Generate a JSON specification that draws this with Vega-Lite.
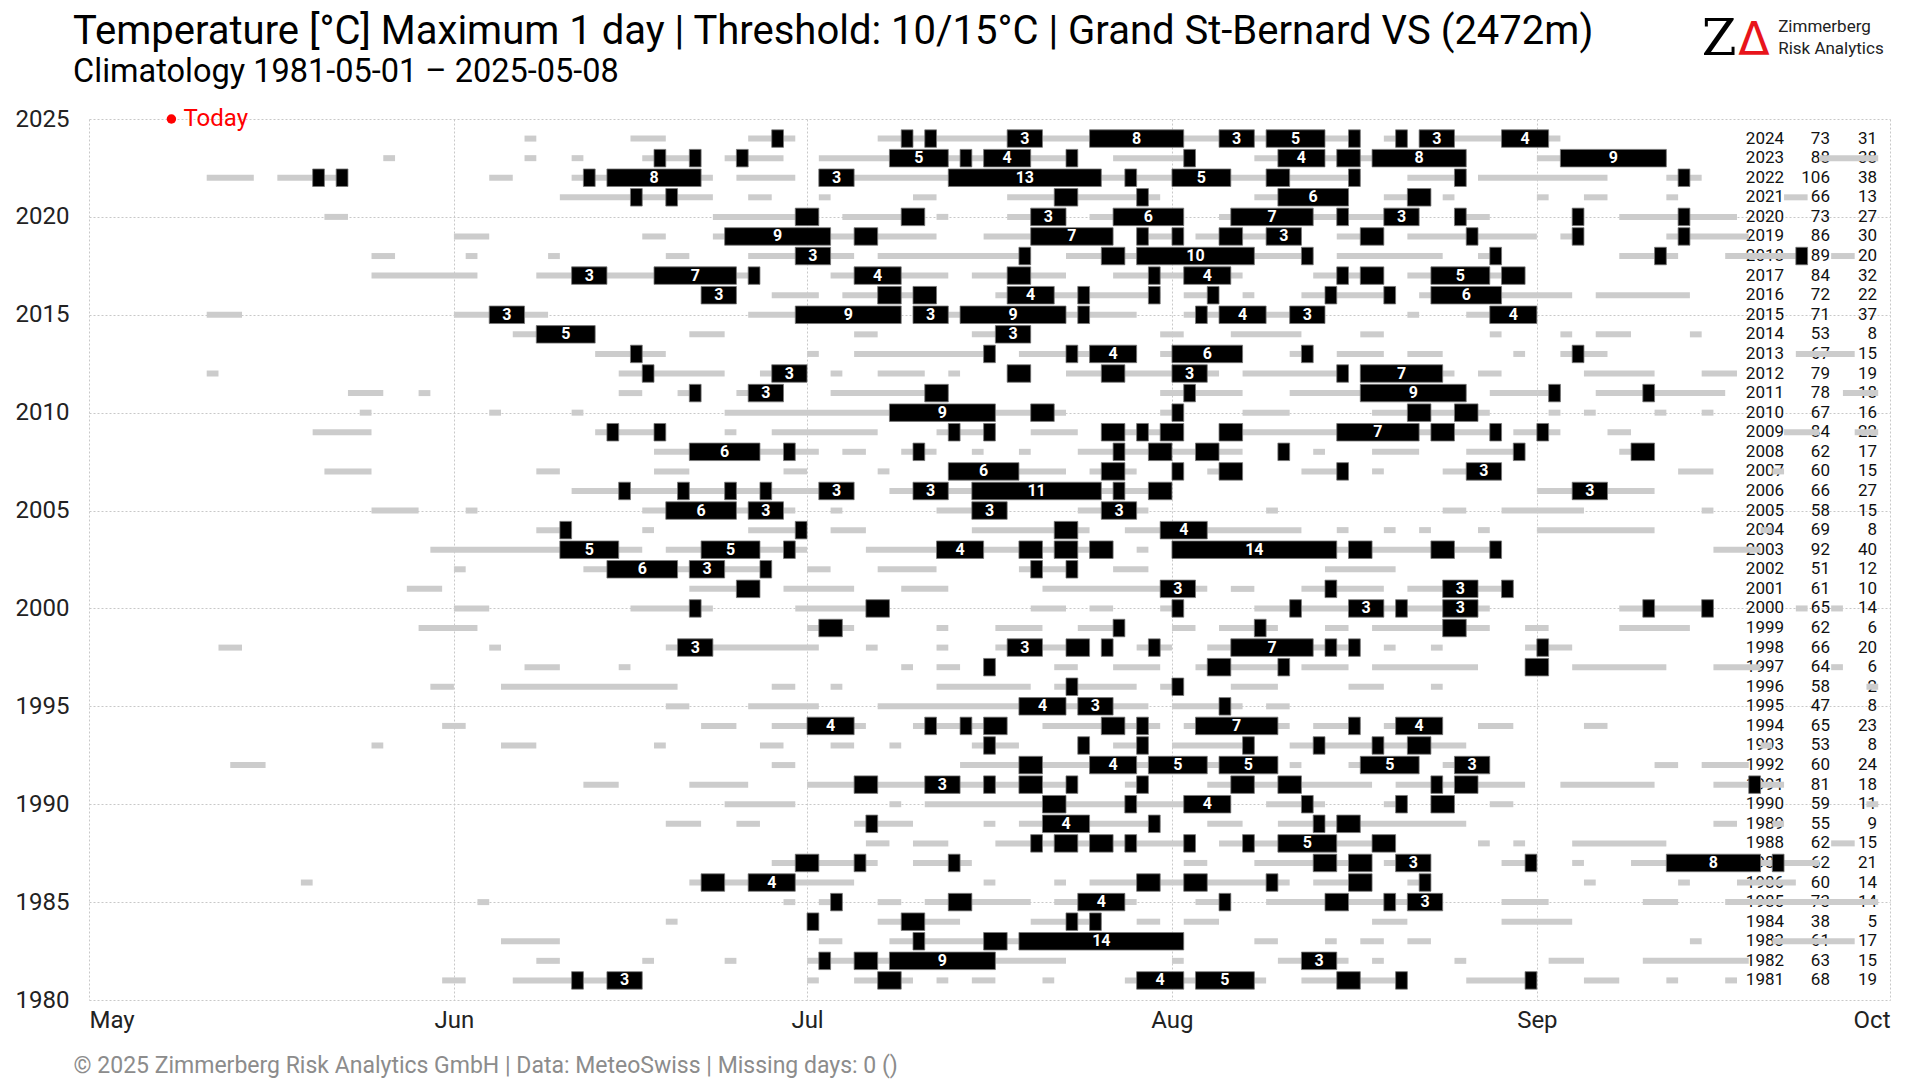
{
"$schema":"https://vega.github.io/schema/vega-lite/v6.json",
"width":1801,"height":881,
"autosize":{"type":"none"},
"padding":{"left":89,"top":119,"right":30,"bottom":80},
"background":"white",
"config":{"view":{"stroke":null},"font":"Roboto"},
"datasets":{
"g":[
{"y":2024,"s":37,"e":38},{"y":2024,"s":46,"e":49},{"y":2024,"s":56,"e":60},{"y":2024,"s":67,"e":108},{"y":2024,"s":110,"e":112},{"y":2024,"s":113,"e":125},
{"y":2023,"s":25,"e":26},{"y":2023,"s":37,"e":38},{"y":2023,"s":41,"e":42},{"y":2023,"s":47,"e":52},{"y":2023,"s":54,"e":59},{"y":2023,"s":62,"e":84},{"y":2023,"s":87,"e":94},{"y":2023,"s":99,"e":117},{"y":2023,"s":123,"e":134},{"y":2023,"s":147,"e":152},
{"y":2022,"s":10,"e":14},{"y":2022,"s":16,"e":22},{"y":2022,"s":34,"e":36},{"y":2022,"s":41,"e":53},{"y":2022,"s":55,"e":60},{"y":2022,"s":62,"e":108},{"y":2022,"s":112,"e":117},{"y":2022,"s":118,"e":129},{"y":2022,"s":134,"e":137},
{"y":2021,"s":40,"e":53},{"y":2021,"s":56,"e":58},{"y":2021,"s":62,"e":63},{"y":2021,"s":70,"e":72},{"y":2021,"s":78,"e":91},{"y":2021,"s":99,"e":107},{"y":2021,"s":110,"e":114},{"y":2021,"s":115,"e":116},{"y":2021,"s":123,"e":124},{"y":2021,"s":127,"e":129},{"y":2021,"s":134,"e":135},{"y":2021,"s":144,"e":146},
{"y":2020,"s":20,"e":22},{"y":2020,"s":53,"e":62},{"y":2020,"s":64,"e":71},{"y":2020,"s":72,"e":73},{"y":2020,"s":78,"e":83},{"y":2020,"s":85,"e":93},{"y":2020,"s":96,"e":113},{"y":2020,"s":116,"e":119},{"y":2020,"s":126,"e":127},{"y":2020,"s":130,"e":140},
{"y":2019,"s":31,"e":34},{"y":2019,"s":47,"e":49},{"y":2019,"s":53,"e":72},{"y":2019,"s":76,"e":87},{"y":2019,"s":89,"e":93},{"y":2019,"s":94,"e":103},{"y":2019,"s":106,"e":110},{"y":2019,"s":112,"e":123},{"y":2019,"s":125,"e":127},{"y":2019,"s":134,"e":141},
{"y":2018,"s":24,"e":26},{"y":2018,"s":32,"e":33},{"y":2018,"s":39,"e":40},{"y":2018,"s":49,"e":51},{"y":2018,"s":56,"e":65},{"y":2018,"s":67,"e":80},{"y":2018,"s":83,"e":104},{"y":2018,"s":106,"e":115},{"y":2018,"s":118,"e":120},{"y":2018,"s":130,"e":135},{"y":2018,"s":139,"e":146},{"y":2018,"s":148,"e":150},
{"y":2017,"s":24,"e":33},{"y":2017,"s":38,"e":57},{"y":2017,"s":63,"e":73},{"y":2017,"s":75,"e":83},{"y":2017,"s":87,"e":98},{"y":2017,"s":104,"e":110},{"y":2017,"s":112,"e":122},
{"y":2016,"s":52,"e":55},{"y":2016,"s":58,"e":62},{"y":2016,"s":64,"e":72},{"y":2016,"s":77,"e":91},{"y":2016,"s":93,"e":96},{"y":2016,"s":98,"e":99},{"y":2016,"s":103,"e":111},{"y":2016,"s":113,"e":126},{"y":2016,"s":128,"e":136},
{"y":2015,"s":10,"e":13},{"y":2015,"s":31,"e":39},{"y":2015,"s":56,"e":69},{"y":2015,"s":70,"e":89},{"y":2015,"s":93,"e":105},{"y":2015,"s":112,"e":113},{"y":2015,"s":117,"e":123},
{"y":2014,"s":36,"e":43},{"y":2014,"s":51,"e":54},{"y":2014,"s":65,"e":67},{"y":2014,"s":75,"e":80},{"y":2014,"s":91,"e":93},{"y":2014,"s":97,"e":103},{"y":2014,"s":108,"e":110},{"y":2014,"s":119,"e":120},{"y":2014,"s":125,"e":126},{"y":2014,"s":128,"e":131},{"y":2014,"s":136,"e":137},
{"y":2013,"s":43,"e":49},{"y":2013,"s":61,"e":62},{"y":2013,"s":65,"e":77},{"y":2013,"s":79,"e":89},{"y":2013,"s":91,"e":98},{"y":2013,"s":102,"e":104},{"y":2013,"s":106,"e":110},{"y":2013,"s":112,"e":115},{"y":2013,"s":121,"e":122},{"y":2013,"s":125,"e":129},{"y":2013,"s":145,"e":150},
{"y":2012,"s":10,"e":11},{"y":2012,"s":45,"e":54},{"y":2012,"s":57,"e":61},{"y":2012,"s":63,"e":64},{"y":2012,"s":67,"e":71},{"y":2012,"s":73,"e":74},{"y":2012,"s":78,"e":80},{"y":2012,"s":83,"e":96},{"y":2012,"s":98,"e":107},{"y":2012,"s":108,"e":116},{"y":2012,"s":118,"e":120},{"y":2012,"s":127,"e":133},{"y":2012,"s":137,"e":140},
{"y":2011,"s":22,"e":25},{"y":2011,"s":28,"e":29},{"y":2011,"s":45,"e":47},{"y":2011,"s":50,"e":52},{"y":2011,"s":55,"e":59},{"y":2011,"s":63,"e":73},{"y":2011,"s":91,"e":98},{"y":2011,"s":102,"e":117},{"y":2011,"s":119,"e":125},{"y":2011,"s":128,"e":139},{"y":2011,"s":149,"e":152},
{"y":2010,"s":23,"e":24},{"y":2010,"s":34,"e":35},{"y":2010,"s":41,"e":42},{"y":2010,"s":54,"e":83},{"y":2010,"s":91,"e":93},{"y":2010,"s":98,"e":102},{"y":2010,"s":109,"e":119},{"y":2010,"s":124,"e":125},{"y":2010,"s":127,"e":128},{"y":2010,"s":133,"e":134},{"y":2010,"s":137,"e":138},
{"y":2009,"s":19,"e":24},{"y":2009,"s":43,"e":49},{"y":2009,"s":54,"e":55},{"y":2009,"s":58,"e":67},{"y":2009,"s":72,"e":77},{"y":2009,"s":80,"e":84},{"y":2009,"s":86,"e":93},{"y":2009,"s":96,"e":120},{"y":2009,"s":121,"e":125},{"y":2009,"s":129,"e":131},{"y":2009,"s":144,"e":147},{"y":2009,"s":150,"e":152},
{"y":2008,"s":48,"e":62},{"y":2008,"s":64,"e":66},{"y":2008,"s":69,"e":72},{"y":2008,"s":75,"e":76},{"y":2008,"s":79,"e":80},{"y":2008,"s":84,"e":98},{"y":2008,"s":101,"e":102},{"y":2008,"s":104,"e":105},{"y":2008,"s":109,"e":113},{"y":2008,"s":117,"e":122},{"y":2008,"s":130,"e":133},
{"y":2007,"s":20,"e":24},{"y":2007,"s":38,"e":40},{"y":2007,"s":48,"e":51},{"y":2007,"s":59,"e":61},{"y":2007,"s":67,"e":68},{"y":2007,"s":73,"e":83},{"y":2007,"s":85,"e":89},{"y":2007,"s":92,"e":93},{"y":2007,"s":95,"e":98},{"y":2007,"s":103,"e":107},{"y":2007,"s":109,"e":110},{"y":2007,"s":115,"e":120},{"y":2007,"s":135,"e":138},{"y":2007,"s":143,"e":144},
{"y":2006,"s":41,"e":65},{"y":2006,"s":68,"e":92},{"y":2006,"s":123,"e":133},
{"y":2005,"s":24,"e":28},{"y":2005,"s":32,"e":33},{"y":2005,"s":47,"e":60},{"y":2005,"s":63,"e":64},{"y":2005,"s":72,"e":78},{"y":2005,"s":84,"e":90},{"y":2005,"s":100,"e":101},{"y":2005,"s":115,"e":117},{"y":2005,"s":120,"e":127},{"y":2005,"s":137,"e":138},
{"y":2004,"s":38,"e":41},{"y":2004,"s":47,"e":48},{"y":2004,"s":56,"e":61},{"y":2004,"s":63,"e":66},{"y":2004,"s":75,"e":85},{"y":2004,"s":88,"e":103},{"y":2004,"s":106,"e":107},{"y":2004,"s":110,"e":111},{"y":2004,"s":113,"e":114},{"y":2004,"s":118,"e":119},{"y":2004,"s":123,"e":133},{"y":2004,"s":142,"e":143},
{"y":2003,"s":29,"e":47},{"y":2003,"s":49,"e":61},{"y":2003,"s":66,"e":87},{"y":2003,"s":89,"e":90},{"y":2003,"s":92,"e":120},{"y":2003,"s":138,"e":142},
{"y":2002,"s":31,"e":32},{"y":2002,"s":42,"e":58},{"y":2002,"s":61,"e":63},{"y":2002,"s":67,"e":72},{"y":2002,"s":79,"e":84},{"y":2002,"s":87,"e":90},{"y":2002,"s":105,"e":111},
{"y":2001,"s":27,"e":30},{"y":2001,"s":51,"e":57},{"y":2001,"s":59,"e":65},{"y":2001,"s":69,"e":73},{"y":2001,"s":81,"e":95},{"y":2001,"s":97,"e":99},{"y":2001,"s":103,"e":110},{"y":2001,"s":112,"e":121},
{"y":2000,"s":31,"e":34},{"y":2000,"s":46,"e":53},{"y":2000,"s":60,"e":68},{"y":2000,"s":80,"e":83},{"y":2000,"s":85,"e":87},{"y":2000,"s":91,"e":93},{"y":2000,"s":99,"e":119},{"y":2000,"s":130,"e":138},{"y":2000,"s":145,"e":146},{"y":2000,"s":148,"e":149},
{"y":1999,"s":28,"e":33},{"y":1999,"s":61,"e":65},{"y":1999,"s":72,"e":73},{"y":1999,"s":77,"e":81},{"y":1999,"s":84,"e":88},{"y":1999,"s":92,"e":94},{"y":1999,"s":96,"e":101},{"y":1999,"s":105,"e":107},{"y":1999,"s":109,"e":119},{"y":1999,"s":122,"e":124},{"y":1999,"s":130,"e":136},
{"y":1998,"s":11,"e":13},{"y":1998,"s":34,"e":35},{"y":1998,"s":49,"e":62},{"y":1998,"s":66,"e":67},{"y":1998,"s":72,"e":73},{"y":1998,"s":77,"e":85},{"y":1998,"s":86,"e":87},{"y":1998,"s":89,"e":92},{"y":1998,"s":95,"e":108},{"y":1998,"s":110,"e":111},{"y":1998,"s":114,"e":115},{"y":1998,"s":122,"e":126},
{"y":1997,"s":37,"e":40},{"y":1997,"s":45,"e":46},{"y":1997,"s":69,"e":70},{"y":1997,"s":72,"e":74},{"y":1997,"s":76,"e":77},{"y":1997,"s":82,"e":84},{"y":1997,"s":87,"e":91},{"y":1997,"s":94,"e":102},{"y":1997,"s":103,"e":107},{"y":1997,"s":109,"e":118},{"y":1997,"s":122,"e":124},{"y":1997,"s":126,"e":134},{"y":1997,"s":138,"e":142},{"y":1997,"s":148,"e":149},
{"y":1996,"s":29,"e":31},{"y":1996,"s":35,"e":50},{"y":1996,"s":58,"e":60},{"y":1996,"s":63,"e":64},{"y":1996,"s":72,"e":80},{"y":1996,"s":82,"e":89},{"y":1996,"s":91,"e":93},{"y":1996,"s":97,"e":101},{"y":1996,"s":107,"e":110},{"y":1996,"s":114,"e":115},{"y":1996,"s":151,"e":152},
{"y":1995,"s":49,"e":51},{"y":1995,"s":56,"e":62},{"y":1995,"s":67,"e":90},{"y":1995,"s":92,"e":98},{"y":1995,"s":100,"e":102},
{"y":1994,"s":30,"e":32},{"y":1994,"s":52,"e":55},{"y":1994,"s":58,"e":66},{"y":1994,"s":70,"e":78},{"y":1994,"s":81,"e":91},{"y":1994,"s":93,"e":102},{"y":1994,"s":104,"e":108},{"y":1994,"s":110,"e":115},{"y":1994,"s":118,"e":121},{"y":1994,"s":127,"e":129},
{"y":1993,"s":24,"e":25},{"y":1993,"s":35,"e":38},{"y":1993,"s":48,"e":49},{"y":1993,"s":57,"e":59},{"y":1993,"s":63,"e":65},{"y":1993,"s":68,"e":69},{"y":1993,"s":75,"e":79},{"y":1993,"s":84,"e":85},{"y":1993,"s":87,"e":90},{"y":1993,"s":92,"e":99},{"y":1993,"s":102,"e":117},{"y":1993,"s":142,"e":143},
{"y":1992,"s":12,"e":15},{"y":1992,"s":58,"e":60},{"y":1992,"s":74,"e":101},{"y":1992,"s":102,"e":103},{"y":1992,"s":107,"e":113},{"y":1992,"s":115,"e":119},{"y":1992,"s":133,"e":135},{"y":1992,"s":137,"e":141},
{"y":1991,"s":42,"e":45},{"y":1991,"s":51,"e":56},{"y":1991,"s":61,"e":84},{"y":1991,"s":88,"e":90},{"y":1991,"s":95,"e":109},{"y":1991,"s":111,"e":122},{"y":1991,"s":125,"e":133},{"y":1991,"s":138,"e":144},
{"y":1990,"s":54,"e":60},{"y":1990,"s":68,"e":69},{"y":1990,"s":71,"e":97},{"y":1990,"s":100,"e":105},{"y":1990,"s":110,"e":112},{"y":1990,"s":114,"e":116},{"y":1990,"s":119,"e":121},{"y":1990,"s":151,"e":152},
{"y":1989,"s":49,"e":52},{"y":1989,"s":55,"e":57},{"y":1989,"s":65,"e":70},{"y":1989,"s":76,"e":77},{"y":1989,"s":79,"e":91},{"y":1989,"s":95,"e":98},{"y":1989,"s":101,"e":117},{"y":1989,"s":138,"e":140},{"y":1989,"s":143,"e":144},
{"y":1988,"s":66,"e":68},{"y":1988,"s":70,"e":73},{"y":1988,"s":77,"e":94},{"y":1988,"s":96,"e":111},{"y":1988,"s":118,"e":119},{"y":1988,"s":121,"e":122},{"y":1988,"s":126,"e":134},{"y":1988,"s":148,"e":150},
{"y":1987,"s":58,"e":67},{"y":1987,"s":70,"e":75},{"y":1987,"s":93,"e":95},{"y":1987,"s":99,"e":109},{"y":1987,"s":110,"e":114},{"y":1987,"s":120,"e":123},{"y":1987,"s":126,"e":127},{"y":1987,"s":131,"e":147},
{"y":1986,"s":18,"e":19},{"y":1986,"s":51,"e":65},{"y":1986,"s":76,"e":77},{"y":1986,"s":82,"e":83},{"y":1986,"s":85,"e":102},{"y":1986,"s":104,"e":109},{"y":1986,"s":112,"e":114},{"y":1986,"s":127,"e":128},{"y":1986,"s":135,"e":136},{"y":1986,"s":140,"e":145},
{"y":1985,"s":33,"e":34},{"y":1985,"s":59,"e":60},{"y":1985,"s":62,"e":64},{"y":1985,"s":67,"e":69},{"y":1985,"s":71,"e":80},{"y":1985,"s":82,"e":89},{"y":1985,"s":94,"e":97},{"y":1985,"s":100,"e":115},{"y":1985,"s":120,"e":124},{"y":1985,"s":132,"e":135},{"y":1985,"s":139,"e":152},
{"y":1984,"s":49,"e":50},{"y":1984,"s":61,"e":62},{"y":1984,"s":67,"e":74},{"y":1984,"s":80,"e":86},{"y":1984,"s":89,"e":91},{"y":1984,"s":93,"e":96},{"y":1984,"s":109,"e":112},{"y":1984,"s":120,"e":126},
{"y":1983,"s":35,"e":40},{"y":1983,"s":62,"e":64},{"y":1983,"s":68,"e":93},{"y":1983,"s":99,"e":101},{"y":1983,"s":105,"e":106},{"y":1983,"s":108,"e":110},{"y":1983,"s":112,"e":114},{"y":1983,"s":136,"e":137},{"y":1983,"s":143,"e":150},
{"y":1982,"s":38,"e":40},{"y":1982,"s":47,"e":48},{"y":1982,"s":54,"e":55},{"y":1982,"s":61,"e":83},{"y":1982,"s":92,"e":93},{"y":1982,"s":101,"e":107},{"y":1982,"s":109,"e":110},{"y":1982,"s":116,"e":117},{"y":1982,"s":124,"e":127},{"y":1982,"s":132,"e":141},
{"y":1981,"s":30,"e":32},{"y":1981,"s":36,"e":47},{"y":1981,"s":61,"e":62},{"y":1981,"s":65,"e":70},{"y":1981,"s":72,"e":73},{"y":1981,"s":75,"e":77},{"y":1981,"s":81,"e":82},{"y":1981,"s":88,"e":100},{"y":1981,"s":103,"e":112},{"y":1981,"s":117,"e":123},{"y":1981,"s":127,"e":130},{"y":1981,"s":134,"e":135},{"y":1981,"s":139,"e":140}
],
"b":[
{"y":2024,"s":58,"e":59,"n":1},{"y":2024,"s":69,"e":70,"n":1},{"y":2024,"s":71,"e":72,"n":1},{"y":2024,"s":78,"e":81,"n":3},{"y":2024,"s":85,"e":93,"n":8},{"y":2024,"s":96,"e":99,"n":3},{"y":2024,"s":100,"e":105,"n":5},{"y":2024,"s":107,"e":108,"n":1},{"y":2024,"s":111,"e":112,"n":1},{"y":2024,"s":113,"e":116,"n":3},{"y":2024,"s":120,"e":124,"n":4},
{"y":2023,"s":48,"e":49,"n":1},{"y":2023,"s":51,"e":52,"n":1},{"y":2023,"s":55,"e":56,"n":1},{"y":2023,"s":68,"e":73,"n":5},{"y":2023,"s":74,"e":75,"n":1},{"y":2023,"s":76,"e":80,"n":4},{"y":2023,"s":83,"e":84,"n":1},{"y":2023,"s":93,"e":94,"n":1},{"y":2023,"s":101,"e":105,"n":4},{"y":2023,"s":106,"e":108,"n":2},{"y":2023,"s":109,"e":117,"n":8},{"y":2023,"s":125,"e":134,"n":9},
{"y":2022,"s":19,"e":20,"n":1},{"y":2022,"s":21,"e":22,"n":1},{"y":2022,"s":42,"e":43,"n":1},{"y":2022,"s":44,"e":52,"n":8},{"y":2022,"s":62,"e":65,"n":3},{"y":2022,"s":73,"e":86,"n":13},{"y":2022,"s":88,"e":89,"n":1},{"y":2022,"s":92,"e":97,"n":5},{"y":2022,"s":100,"e":102,"n":2},{"y":2022,"s":107,"e":108,"n":1},{"y":2022,"s":116,"e":117,"n":1},{"y":2022,"s":135,"e":136,"n":1},
{"y":2021,"s":46,"e":47,"n":1},{"y":2021,"s":49,"e":50,"n":1},{"y":2021,"s":82,"e":84,"n":2},{"y":2021,"s":89,"e":90,"n":1},{"y":2021,"s":101,"e":107,"n":6},{"y":2021,"s":112,"e":114,"n":2},
{"y":2020,"s":60,"e":62,"n":2},{"y":2020,"s":69,"e":71,"n":2},{"y":2020,"s":80,"e":83,"n":3},{"y":2020,"s":87,"e":93,"n":6},{"y":2020,"s":97,"e":104,"n":7},{"y":2020,"s":106,"e":107,"n":1},{"y":2020,"s":110,"e":113,"n":3},{"y":2020,"s":116,"e":117,"n":1},{"y":2020,"s":126,"e":127,"n":1},{"y":2020,"s":135,"e":136,"n":1},
{"y":2019,"s":54,"e":63,"n":9},{"y":2019,"s":65,"e":67,"n":2},{"y":2019,"s":80,"e":87,"n":7},{"y":2019,"s":89,"e":90,"n":1},{"y":2019,"s":92,"e":93,"n":1},{"y":2019,"s":96,"e":98,"n":2},{"y":2019,"s":100,"e":103,"n":3},{"y":2019,"s":108,"e":110,"n":2},{"y":2019,"s":117,"e":118,"n":1},{"y":2019,"s":126,"e":127,"n":1},{"y":2019,"s":135,"e":136,"n":1},
{"y":2018,"s":60,"e":63,"n":3},{"y":2018,"s":79,"e":80,"n":1},{"y":2018,"s":86,"e":88,"n":2},{"y":2018,"s":89,"e":99,"n":10},{"y":2018,"s":103,"e":104,"n":1},{"y":2018,"s":119,"e":120,"n":1},{"y":2018,"s":133,"e":134,"n":1},{"y":2018,"s":145,"e":146,"n":1},
{"y":2017,"s":41,"e":44,"n":3},{"y":2017,"s":48,"e":55,"n":7},{"y":2017,"s":56,"e":57,"n":1},{"y":2017,"s":65,"e":69,"n":4},{"y":2017,"s":78,"e":80,"n":2},{"y":2017,"s":90,"e":91,"n":1},{"y":2017,"s":93,"e":97,"n":4},{"y":2017,"s":106,"e":107,"n":1},{"y":2017,"s":108,"e":110,"n":2},{"y":2017,"s":114,"e":119,"n":5},{"y":2017,"s":120,"e":122,"n":2},
{"y":2016,"s":52,"e":55,"n":3},{"y":2016,"s":67,"e":69,"n":2},{"y":2016,"s":70,"e":72,"n":2},{"y":2016,"s":78,"e":82,"n":4},{"y":2016,"s":84,"e":85,"n":1},{"y":2016,"s":90,"e":91,"n":1},{"y":2016,"s":95,"e":96,"n":1},{"y":2016,"s":105,"e":106,"n":1},{"y":2016,"s":110,"e":111,"n":1},{"y":2016,"s":114,"e":120,"n":6},
{"y":2015,"s":34,"e":37,"n":3},{"y":2015,"s":60,"e":69,"n":9},{"y":2015,"s":70,"e":73,"n":3},{"y":2015,"s":74,"e":83,"n":9},{"y":2015,"s":84,"e":85,"n":1},{"y":2015,"s":94,"e":95,"n":1},{"y":2015,"s":96,"e":100,"n":4},{"y":2015,"s":102,"e":105,"n":3},{"y":2015,"s":119,"e":123,"n":4},
{"y":2014,"s":38,"e":43,"n":5},{"y":2014,"s":77,"e":80,"n":3},
{"y":2013,"s":46,"e":47,"n":1},{"y":2013,"s":76,"e":77,"n":1},{"y":2013,"s":83,"e":84,"n":1},{"y":2013,"s":85,"e":89,"n":4},{"y":2013,"s":92,"e":98,"n":6},{"y":2013,"s":103,"e":104,"n":1},{"y":2013,"s":126,"e":127,"n":1},
{"y":2012,"s":47,"e":48,"n":1},{"y":2012,"s":58,"e":61,"n":3},{"y":2012,"s":78,"e":80,"n":2},{"y":2012,"s":86,"e":88,"n":2},{"y":2012,"s":92,"e":95,"n":3},{"y":2012,"s":106,"e":107,"n":1},{"y":2012,"s":108,"e":115,"n":7},
{"y":2011,"s":51,"e":52,"n":1},{"y":2011,"s":56,"e":59,"n":3},{"y":2011,"s":71,"e":73,"n":2},{"y":2011,"s":93,"e":94,"n":1},{"y":2011,"s":108,"e":117,"n":9},{"y":2011,"s":124,"e":125,"n":1},{"y":2011,"s":132,"e":133,"n":1},
{"y":2010,"s":68,"e":77,"n":9},{"y":2010,"s":80,"e":82,"n":2},{"y":2010,"s":92,"e":93,"n":1},{"y":2010,"s":112,"e":114,"n":2},{"y":2010,"s":116,"e":118,"n":2},
{"y":2009,"s":44,"e":45,"n":1},{"y":2009,"s":48,"e":49,"n":1},{"y":2009,"s":73,"e":74,"n":1},{"y":2009,"s":76,"e":77,"n":1},{"y":2009,"s":86,"e":88,"n":2},{"y":2009,"s":89,"e":90,"n":1},{"y":2009,"s":91,"e":93,"n":2},{"y":2009,"s":96,"e":98,"n":2},{"y":2009,"s":106,"e":113,"n":7},{"y":2009,"s":114,"e":116,"n":2},{"y":2009,"s":119,"e":120,"n":1},{"y":2009,"s":123,"e":124,"n":1},
{"y":2008,"s":51,"e":57,"n":6},{"y":2008,"s":59,"e":60,"n":1},{"y":2008,"s":70,"e":71,"n":1},{"y":2008,"s":87,"e":88,"n":1},{"y":2008,"s":90,"e":92,"n":2},{"y":2008,"s":94,"e":96,"n":2},{"y":2008,"s":101,"e":102,"n":1},{"y":2008,"s":121,"e":122,"n":1},{"y":2008,"s":131,"e":133,"n":2},
{"y":2007,"s":73,"e":79,"n":6},{"y":2007,"s":86,"e":88,"n":2},{"y":2007,"s":92,"e":93,"n":1},{"y":2007,"s":96,"e":98,"n":2},{"y":2007,"s":106,"e":107,"n":1},{"y":2007,"s":117,"e":120,"n":3},
{"y":2006,"s":45,"e":46,"n":1},{"y":2006,"s":50,"e":51,"n":1},{"y":2006,"s":54,"e":55,"n":1},{"y":2006,"s":57,"e":58,"n":1},{"y":2006,"s":62,"e":65,"n":3},{"y":2006,"s":70,"e":73,"n":3},{"y":2006,"s":75,"e":86,"n":11},{"y":2006,"s":87,"e":88,"n":1},{"y":2006,"s":90,"e":92,"n":2},{"y":2006,"s":126,"e":129,"n":3},
{"y":2005,"s":49,"e":55,"n":6},{"y":2005,"s":56,"e":59,"n":3},{"y":2005,"s":75,"e":78,"n":3},{"y":2005,"s":86,"e":89,"n":3},
{"y":2004,"s":40,"e":41,"n":1},{"y":2004,"s":60,"e":61,"n":1},{"y":2004,"s":82,"e":84,"n":2},{"y":2004,"s":91,"e":95,"n":4},
{"y":2003,"s":40,"e":45,"n":5},{"y":2003,"s":52,"e":57,"n":5},{"y":2003,"s":59,"e":60,"n":1},{"y":2003,"s":72,"e":76,"n":4},{"y":2003,"s":79,"e":81,"n":2},{"y":2003,"s":82,"e":84,"n":2},{"y":2003,"s":85,"e":87,"n":2},{"y":2003,"s":92,"e":106,"n":14},{"y":2003,"s":107,"e":109,"n":2},{"y":2003,"s":114,"e":116,"n":2},{"y":2003,"s":119,"e":120,"n":1},
{"y":2002,"s":44,"e":50,"n":6},{"y":2002,"s":51,"e":54,"n":3},{"y":2002,"s":57,"e":58,"n":1},{"y":2002,"s":80,"e":81,"n":1},{"y":2002,"s":83,"e":84,"n":1},
{"y":2001,"s":55,"e":57,"n":2},{"y":2001,"s":91,"e":94,"n":3},{"y":2001,"s":105,"e":106,"n":1},{"y":2001,"s":115,"e":118,"n":3},{"y":2001,"s":120,"e":121,"n":1},
{"y":2000,"s":51,"e":52,"n":1},{"y":2000,"s":66,"e":68,"n":2},{"y":2000,"s":92,"e":93,"n":1},{"y":2000,"s":102,"e":103,"n":1},{"y":2000,"s":107,"e":110,"n":3},{"y":2000,"s":111,"e":112,"n":1},{"y":2000,"s":115,"e":118,"n":3},{"y":2000,"s":132,"e":133,"n":1},{"y":2000,"s":137,"e":138,"n":1},
{"y":1999,"s":62,"e":64,"n":2},{"y":1999,"s":87,"e":88,"n":1},{"y":1999,"s":99,"e":100,"n":1},{"y":1999,"s":115,"e":117,"n":2},
{"y":1998,"s":50,"e":53,"n":3},{"y":1998,"s":78,"e":81,"n":3},{"y":1998,"s":83,"e":85,"n":2},{"y":1998,"s":86,"e":87,"n":1},{"y":1998,"s":90,"e":91,"n":1},{"y":1998,"s":97,"e":104,"n":7},{"y":1998,"s":105,"e":106,"n":1},{"y":1998,"s":107,"e":108,"n":1},{"y":1998,"s":123,"e":124,"n":1},
{"y":1997,"s":76,"e":77,"n":1},{"y":1997,"s":95,"e":97,"n":2},{"y":1997,"s":101,"e":102,"n":1},{"y":1997,"s":122,"e":124,"n":2},
{"y":1996,"s":83,"e":84,"n":1},{"y":1996,"s":92,"e":93,"n":1},
{"y":1995,"s":79,"e":83,"n":4},{"y":1995,"s":84,"e":87,"n":3},{"y":1995,"s":96,"e":97,"n":1},
{"y":1994,"s":61,"e":65,"n":4},{"y":1994,"s":71,"e":72,"n":1},{"y":1994,"s":74,"e":75,"n":1},{"y":1994,"s":76,"e":78,"n":2},{"y":1994,"s":86,"e":88,"n":2},{"y":1994,"s":89,"e":90,"n":1},{"y":1994,"s":94,"e":101,"n":7},{"y":1994,"s":107,"e":108,"n":1},{"y":1994,"s":111,"e":115,"n":4},
{"y":1993,"s":76,"e":77,"n":1},{"y":1993,"s":84,"e":85,"n":1},{"y":1993,"s":89,"e":90,"n":1},{"y":1993,"s":98,"e":99,"n":1},{"y":1993,"s":104,"e":105,"n":1},{"y":1993,"s":109,"e":110,"n":1},{"y":1993,"s":112,"e":114,"n":2},
{"y":1992,"s":79,"e":81,"n":2},{"y":1992,"s":85,"e":89,"n":4},{"y":1992,"s":90,"e":95,"n":5},{"y":1992,"s":96,"e":101,"n":5},{"y":1992,"s":108,"e":113,"n":5},{"y":1992,"s":116,"e":119,"n":3},
{"y":1991,"s":65,"e":67,"n":2},{"y":1991,"s":71,"e":74,"n":3},{"y":1991,"s":76,"e":77,"n":1},{"y":1991,"s":79,"e":81,"n":2},{"y":1991,"s":83,"e":84,"n":1},{"y":1991,"s":89,"e":90,"n":1},{"y":1991,"s":97,"e":99,"n":2},{"y":1991,"s":101,"e":103,"n":2},{"y":1991,"s":114,"e":115,"n":1},{"y":1991,"s":116,"e":118,"n":2},{"y":1991,"s":141,"e":142,"n":1},
{"y":1990,"s":81,"e":83,"n":2},{"y":1990,"s":88,"e":89,"n":1},{"y":1990,"s":93,"e":97,"n":4},{"y":1990,"s":103,"e":104,"n":1},{"y":1990,"s":111,"e":112,"n":1},{"y":1990,"s":114,"e":116,"n":2},
{"y":1989,"s":66,"e":67,"n":1},{"y":1989,"s":81,"e":85,"n":4},{"y":1989,"s":90,"e":91,"n":1},{"y":1989,"s":104,"e":105,"n":1},{"y":1989,"s":106,"e":108,"n":2},
{"y":1988,"s":80,"e":81,"n":1},{"y":1988,"s":82,"e":84,"n":2},{"y":1988,"s":85,"e":87,"n":2},{"y":1988,"s":88,"e":89,"n":1},{"y":1988,"s":93,"e":94,"n":1},{"y":1988,"s":98,"e":99,"n":1},{"y":1988,"s":101,"e":106,"n":5},{"y":1988,"s":109,"e":111,"n":2},
{"y":1987,"s":60,"e":62,"n":2},{"y":1987,"s":65,"e":66,"n":1},{"y":1987,"s":73,"e":74,"n":1},{"y":1987,"s":104,"e":106,"n":2},{"y":1987,"s":107,"e":109,"n":2},{"y":1987,"s":111,"e":114,"n":3},{"y":1987,"s":122,"e":123,"n":1},{"y":1987,"s":134,"e":142,"n":8},{"y":1987,"s":143,"e":144,"n":1},
{"y":1986,"s":52,"e":54,"n":2},{"y":1986,"s":56,"e":60,"n":4},{"y":1986,"s":89,"e":91,"n":2},{"y":1986,"s":93,"e":95,"n":2},{"y":1986,"s":100,"e":101,"n":1},{"y":1986,"s":107,"e":109,"n":2},{"y":1986,"s":113,"e":114,"n":1},
{"y":1985,"s":63,"e":64,"n":1},{"y":1985,"s":73,"e":75,"n":2},{"y":1985,"s":84,"e":88,"n":4},{"y":1985,"s":96,"e":97,"n":1},{"y":1985,"s":105,"e":107,"n":2},{"y":1985,"s":110,"e":111,"n":1},{"y":1985,"s":112,"e":115,"n":3},
{"y":1984,"s":61,"e":62,"n":1},{"y":1984,"s":69,"e":71,"n":2},{"y":1984,"s":83,"e":84,"n":1},{"y":1984,"s":85,"e":86,"n":1},
{"y":1983,"s":70,"e":71,"n":1},{"y":1983,"s":76,"e":78,"n":2},{"y":1983,"s":79,"e":93,"n":14},
{"y":1982,"s":62,"e":63,"n":1},{"y":1982,"s":65,"e":67,"n":2},{"y":1982,"s":68,"e":77,"n":9},{"y":1982,"s":103,"e":106,"n":3},
{"y":1981,"s":41,"e":42,"n":1},{"y":1981,"s":44,"e":47,"n":3},{"y":1981,"s":67,"e":69,"n":2},{"y":1981,"s":89,"e":93,"n":4},{"y":1981,"s":94,"e":99,"n":5},{"y":1981,"s":106,"e":108,"n":2},{"y":1981,"s":111,"e":112,"n":1},{"y":1981,"s":122,"e":123,"n":1}
],
"c":[
{"y":2024,"a":73,"b":31},{"y":2023,"a":88,"b":38},{"y":2022,"a":106,"b":38},{"y":2021,"a":66,"b":13},{"y":2020,"a":73,"b":27},{"y":2019,"a":86,"b":30},{"y":2018,"a":89,"b":20},{"y":2017,"a":84,"b":32},{"y":2016,"a":72,"b":22},{"y":2015,"a":71,"b":37},{"y":2014,"a":53,"b":8},{"y":2013,"a":67,"b":15},{"y":2012,"a":79,"b":19},{"y":2011,"a":78,"b":18},{"y":2010,"a":67,"b":16},{"y":2009,"a":84,"b":22},{"y":2008,"a":62,"b":17},{"y":2007,"a":60,"b":15},{"y":2006,"a":66,"b":27},{"y":2005,"a":58,"b":15},{"y":2004,"a":69,"b":8},{"y":2003,"a":92,"b":40},{"y":2002,"a":51,"b":12},{"y":2001,"a":61,"b":10},{"y":2000,"a":65,"b":14},{"y":1999,"a":62,"b":6},{"y":1998,"a":66,"b":20},{"y":1997,"a":64,"b":6},{"y":1996,"a":58,"b":2},{"y":1995,"a":47,"b":8},{"y":1994,"a":65,"b":23},{"y":1993,"a":53,"b":8},{"y":1992,"a":60,"b":24},{"y":1991,"a":81,"b":18},{"y":1990,"a":59,"b":11},{"y":1989,"a":55,"b":9},{"y":1988,"a":62,"b":15},{"y":1987,"a":62,"b":21},{"y":1986,"a":60,"b":14},{"y":1985,"a":73,"b":14},{"y":1984,"a":38,"b":5},{"y":1983,"a":61,"b":17},{"y":1982,"a":63,"b":15},{"y":1981,"a":68,"b":19}
]
},
"layer":[
{"data":{"name":"c"},"mark":{"type":"text","align":"right","baseline":"middle","fontSize":17,"color":"#111"},
 "encoding":{"x":{"datum":144,"type":"quantitative","scale":{"domain":[0,153],"nice":false,"zero":false,"padding":0}},"y":{"field":"y","type":"quantitative","scale":{"domain":[1980,2025],"nice":false,"zero":false,"padding":0}},"text":{"field":"y","type":"nominal"}}},
{"data":{"name":"c"},"mark":{"type":"text","align":"right","baseline":"middle","fontSize":17,"color":"#111"},
 "encoding":{"x":{"datum":147.9,"type":"quantitative"},"y":{"field":"y","type":"quantitative"},"text":{"field":"a","type":"nominal"}}},
{"data":{"name":"c"},"mark":{"type":"text","align":"right","baseline":"middle","fontSize":17,"color":"#111"},
 "encoding":{"x":{"datum":151.9,"type":"quantitative"},"y":{"field":"y","type":"quantitative"},"text":{"field":"b","type":"nominal"}}},
{"data":{"name":"g"},"mark":{"type":"bar","height":6,"color":"#cccccc"},
 "encoding":{
  "x":{"field":"s","type":"quantitative","scale":{"domain":[0,153],"nice":false,"zero":false,"padding":0},
   "axis":{"values":[0,31,61,92,123,153],"labelExpr":"datum.value==0?'May':datum.value==31?'Jun':datum.value==61?'Jul':datum.value==92?'Aug':datum.value==123?'Sep':'Oct'","labelFontSize":24,"labelColor":"#222","labelPadding":8,"ticks":false,"domain":false,"grid":true,"gridColor":"#c8c8c8","gridDash":[2,2],"gridWidth":1,
    "title":"©  2025 Zimmerberg Risk Analytics GmbH | Data: MeteoSwiss | Missing days: 0 ()","titleAnchor":"start","titleAlign":"left","titleX":-16,"titleY":72,"titleBaseline":"alphabetic","titleFontSize":23,"titleFontWeight":"normal","titleColor":"#8c8c8c"}},
  "x2":{"field":"e"},
  "y":{"field":"y","type":"quantitative","scale":{"domain":[1980,2025],"nice":false,"zero":false,"padding":0},
   "axis":{"values":[1980,1985,1990,1995,2000,2005,2010,2015,2020,2025],"format":"d","labelFontSize":24,"labelColor":"#222","labelPadding":20,"ticks":false,"domain":false,"grid":true,"gridColor":"#c8c8c8","gridDash":[2,2],"gridWidth":1,"title":null}}}},
{"data":{"name":"b"},"mark":{"type":"bar","height":17.5,"color":"#000000","stroke":"#777777","strokeWidth":0.8},
 "encoding":{"x":{"field":"s","type":"quantitative"},"x2":{"field":"e"},"y":{"field":"y","type":"quantitative"}}},
{"data":{"name":"b"},"transform":[{"filter":"datum.n>=3"},{"fold":["s","e"],"as":["k","v"]}],
 "mark":{"type":"text","color":"#ffffff","fontWeight":"bold","fontSize":16,"baseline":"middle","align":"center"},
 "encoding":{"x":{"aggregate":"mean","field":"v","type":"quantitative"},"y":{"field":"y","type":"quantitative"},"text":{"field":"n","type":"nominal"},"detail":{"field":"s","type":"quantitative"}}},
{"data":{"values":[{}]},"mark":{"type":"point","filled":true,"color":"#ff0000","size":90,"opacity":1},
 "encoding":{"x":{"datum":7,"type":"quantitative"},"y":{"datum":2025,"type":"quantitative"}}},
{"data":{"values":[{}]},"mark":{"type":"text","text":"Today","color":"#ff0000","fontSize":24,"align":"left","baseline":"middle","dx":12},
 "encoding":{"x":{"datum":7,"type":"quantitative"},"y":{"datum":2025,"type":"quantitative"}}},
{"data":{"values":[{}]},"mark":{"type":"text","text":"Temperature [°C] Maximum 1 day | Threshold: 10/15°C | Grand St-Bernard  VS (2472m)","color":"#000000","font":"Roboto","fontSize":40,"align":"left","baseline":"alphabetic"},
 "encoding":{"x":{"datum":-1.35,"type":"quantitative"},"y":{"datum":2028.85,"type":"quantitative"}}},
{"data":{"values":[{}]},"mark":{"type":"text","text":"Climatology 1981-05-01 – 2025-05-08","color":"#000000","font":"Roboto","fontSize":32.5,"align":"left","baseline":"alphabetic"},
 "encoding":{"x":{"datum":-1.35,"type":"quantitative"},"y":{"datum":2026.9,"type":"quantitative"}}},
{"data":{"values":[{}]},"mark":{"type":"text","text":"Z","color":"#000000","font":"DejaVu Serif","fontSize":50,"align":"left","baseline":"alphabetic"},
 "encoding":{"x":{"datum":137,"type":"quantitative"},"y":{"datum":2028.26,"type":"quantitative"}}},
{"data":{"values":[{}]},"mark":{"type":"text","text":"Δ","color":"#e8141b","font":"DejaVu Sans","fontSize":46,"align":"left","baseline":"alphabetic"},
 "encoding":{"x":{"datum":140.1,"type":"quantitative"},"y":{"datum":2028.26,"type":"quantitative"}}},
{"data":{"values":[{}]},"mark":{"type":"text","text":"Zimmerberg","color":"#222222","fontSize":17,"align":"left","baseline":"alphabetic"},
 "encoding":{"x":{"datum":143.5,"type":"quantitative"},"y":{"datum":2029.45,"type":"quantitative"}}},
{"data":{"values":[{}]},"mark":{"type":"text","text":"Risk Analytics","color":"#222222","fontSize":17,"align":"left","baseline":"alphabetic"},
 "encoding":{"x":{"datum":143.5,"type":"quantitative"},"y":{"datum":2028.3,"type":"quantitative"}}}
]
}
